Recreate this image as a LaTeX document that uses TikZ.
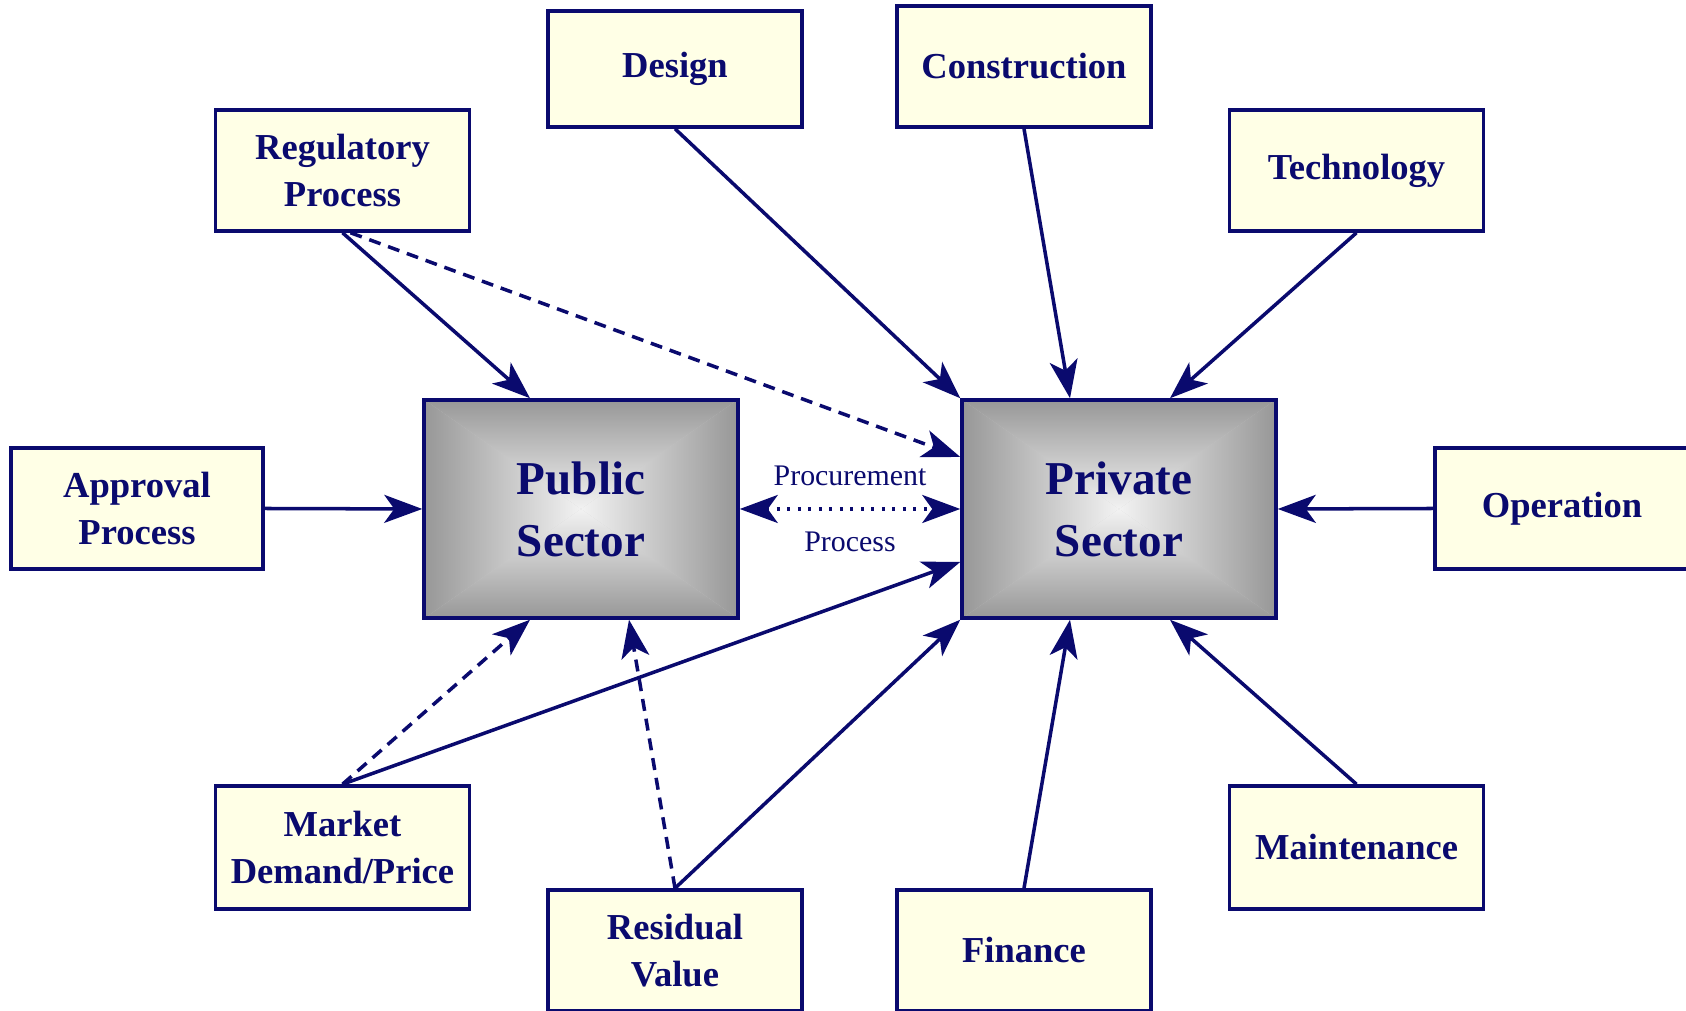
\documentclass[tikz,border=0pt]{standalone}
\usepackage{fontspec}
\setmainfont{Liberation Serif}
\usetikzlibrary{arrows.meta,backgrounds}
\definecolor{navy}{RGB}{10,10,110}
\definecolor{boxyellow}{RGB}{255,255,230}
\definecolor{boxgray}{RGB}{150,150,150}
\tikzset{
  factor/.style={draw=navy,line width=1pt,fill=boxyellow,text=navy,
    minimum width=2.54cm,minimum height=1.21cm,inner sep=0pt,align=center,
    font=\fontsize{10.4}{13.4}\selectfont\bfseries},
  sector/.style={draw=navy,line width=1pt,text=navy,
    minimum width=3.14cm,minimum height=2.18cm,align=center,
    font=\fontsize{13.4}{17.6}\selectfont\bfseries},
  link/.style={navy,line width=1pt,-{Stealth[length=0.38cm,width=0.28cm,inset=0.1cm]}},
  weak/.style={link,dash pattern=on 0.12cm off 0.08cm},
}
\begin{document}
\begin{tikzpicture}
\useasboundingbox (0,0) rectangle (16.86,10.11);
% the two sectors
\node[sector] (pub) at (5.81,5.02) {Public\\Sector};
\node[sector] (pri) at (11.19,5.02) {Private\\Sector};
\begin{scope}[on background layer]
\foreach \n in {pub,pri}{
  \fill[white!80!black] (\n.south west) rectangle (\n.north east);
  \shade[left color=boxgray,right color=white!95!black] (\n.south west)--(\n.north west)--(\n.center)--cycle;
  \shade[right color=boxgray,left color=white!95!black] (\n.south east)--(\n.north east)--(\n.center)--cycle;
  \shade[top color=boxgray,bottom color=white!95!black] (\n.north west)--(\n.north east)--(\n.center)--cycle;
  \shade[bottom color=boxgray,top color=white!95!black] (\n.south west)--(\n.south east)--(\n.center)--cycle;
}
\end{scope}
% factors
\node[factor] (reg) at (3.425,8.405) {Regulatory\\Process};
\node[factor,minimum height=1.16cm] (des) at (6.75,9.42) {Design};
\node[factor] (con) at (10.24,9.445) {Construction};
\node[factor] (tec) at (13.565,8.405) {Technology};
\node[factor,minimum width=2.52cm] (app) at (1.37,5.025) {Approval\\Process};
\node[factor] (ope) at (15.62,5.025) {Operation};
\node[factor,minimum height=1.23cm] (mar) at (3.425,1.635) {Market\\Demand/Price};
\node[factor] (res) at (6.75,0.605) {Residual\\Value};
\node[factor] (fin) at (10.24,0.605) {Finance};
\node[factor,minimum height=1.23cm] (mai) at (13.565,1.635) {Maintenance};
% links
\draw[link] (reg.south)--([xshift=-0.51cm]pub.north);
\draw[weak] ([xshift=0.08cm]reg.south)--([yshift=0.52cm]pri.west);
\draw[link] (des.south)--(pri.north west);
\draw[link] (con.south)--([xshift=-0.49cm]pri.north);
\draw[link] (tec.south)--([xshift=0.51cm]pri.north);
\draw[link] (app.east)--(pub.west);
\draw[link] (ope.west)--(pri.east);
\draw[link,{Stealth[length=0.38cm,width=0.28cm,inset=0.1cm]}-{Stealth[length=0.38cm,width=0.28cm,inset=0.1cm]},dash pattern=on 0.03cm off 0.075cm]
  (pub.east)--(pri.west)
  node[midway,yshift=0.33cm,text=navy,font=\fontsize{8.5}{10}\selectfont]{Procurement}
  node[midway,yshift=-0.33cm,text=navy,font=\fontsize{8.5}{10}\selectfont]{Process};
\draw[weak] (mar.north)--([xshift=-0.51cm]pub.south);
\draw[link] (mar.north)--([yshift=-0.53cm]pri.west);
\draw[weak] (res.north)--([xshift=0.48cm]pub.south);
\draw[link] (res.north)--(pri.south west);
\draw[link] (fin.north)--([xshift=-0.49cm]pri.south);
\draw[link] (mai.north)--([xshift=0.51cm]pri.south);
\end{tikzpicture}
\end{document}
